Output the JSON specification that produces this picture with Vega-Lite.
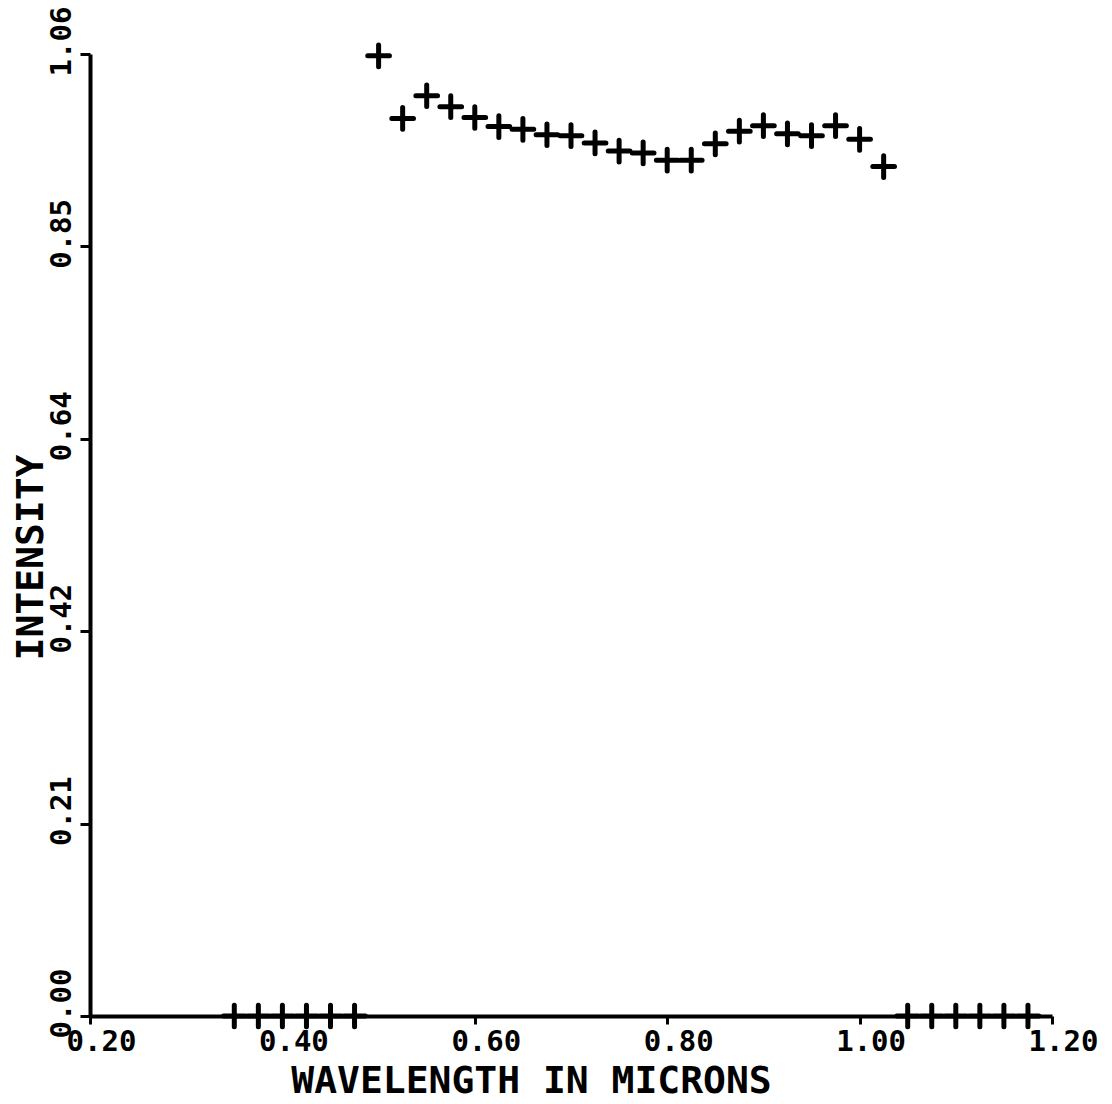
{
  "$schema": "https://vega.github.io/schema/vega-lite/v6.json",
  "width": 962,
  "height": 962,
  "autosize": {"type": "none"},
  "padding": {"left": 90, "top": 54, "right": 60, "bottom": 88},
  "background": "white",
  "config": {"view": {"stroke": null}},
  "data": {"values": [
    {"w": 0.35, "i": 0}, {"w": 0.375, "i": 0}, {"w": 0.4, "i": 0}, {"w": 0.425, "i": 0}, {"w": 0.45, "i": 0}, {"w": 0.475, "i": 0},
    {"w": 0.5, "i": 1.058}, {"w": 0.525, "i": 0.989}, {"w": 0.55, "i": 1.014}, {"w": 0.575, "i": 1.002},
    {"w": 0.6, "i": 0.99}, {"w": 0.625, "i": 0.98}, {"w": 0.65, "i": 0.977}, {"w": 0.675, "i": 0.971},
    {"w": 0.7, "i": 0.97}, {"w": 0.725, "i": 0.962}, {"w": 0.75, "i": 0.953}, {"w": 0.775, "i": 0.951},
    {"w": 0.8, "i": 0.943}, {"w": 0.825, "i": 0.943}, {"w": 0.85, "i": 0.961}, {"w": 0.875, "i": 0.975},
    {"w": 0.9, "i": 0.981}, {"w": 0.925, "i": 0.972}, {"w": 0.95, "i": 0.97}, {"w": 0.975, "i": 0.981},
    {"w": 1.0, "i": 0.966}, {"w": 1.025, "i": 0.936},
    {"w": 1.05, "i": 0}, {"w": 1.075, "i": 0}, {"w": 1.1, "i": 0}, {"w": 1.125, "i": 0}, {"w": 1.15, "i": 0}, {"w": 1.175, "i": 0}
  ]},
  "mark": {
    "type": "point",
    "shape": "M-1,0H1M0,-1V1",
    "filled": false,
    "size": 470,
    "stroke": "black",
    "strokeWidth": 5,
    "strokeCap": "round",
    "opacity": 1
  },
  "encoding": {
    "x": {
      "field": "w",
      "type": "quantitative",
      "scale": {"domain": [0.2, 1.2], "nice": false, "zero": false},
      "axis": {
        "values": [0.2, 0.4, 0.6, 0.8, 1.0, 1.2],
        "format": ".2f",
        "grid": false,
        "domainColor": "black",
        "domainWidth": 4,
        "tickColor": "black",
        "tickWidth": 3,
        "tickSize": 8,
        "labelFont": "DejaVu Sans Mono",
        "labelFontWeight": "bold",
        "labelFontSize": 29,
        "labelColor": "black",
        "labelBaseline": "alphabetic",
        "labelAlign": "center",
        "labelPadding": 26,
        "labelOffset": 11,
        "labelFlush": false,
        "labelOverlap": false,
        "title": "WAVELENGTH IN MICRONS",
        "titleFont": "DejaVu Sans Mono",
        "titleFontWeight": "bold",
        "titleFontSize": 38,
        "titleColor": "black",
        "titleBaseline": "alphabetic",
        "titleAlign": "center",
        "titleX": 441,
        "titleY": 76
      }
    },
    "y": {
      "field": "i",
      "type": "quantitative",
      "scale": {"domain": [0, 1.06], "nice": false, "zero": true},
      "axis": {
        "values": [0, 0.212, 0.424, 0.636, 0.848, 1.06],
        "format": ".2f",
        "grid": false,
        "domainColor": "black",
        "domainWidth": 4,
        "tickColor": "black",
        "tickWidth": 3,
        "tickSize": 10,
        "labelFont": "DejaVu Sans Mono",
        "labelFontWeight": "bold",
        "labelFontSize": 29,
        "labelColor": "black",
        "labelAngle": -90,
        "labelAlign": "center",
        "labelBaseline": "alphabetic",
        "labelPadding": 10,
        "labelOffset": -13,
        "labelFlush": false,
        "labelOverlap": false,
        "title": "INTENSITY",
        "titleFont": "DejaVu Sans Mono",
        "titleFontWeight": "bold",
        "titleFontSize": 38,
        "titleColor": "black",
        "titleAngle": -90,
        "titleAlign": "center",
        "titleBaseline": "alphabetic",
        "titleX": -48,
        "titleY": 503
      }
    }
  }
}
